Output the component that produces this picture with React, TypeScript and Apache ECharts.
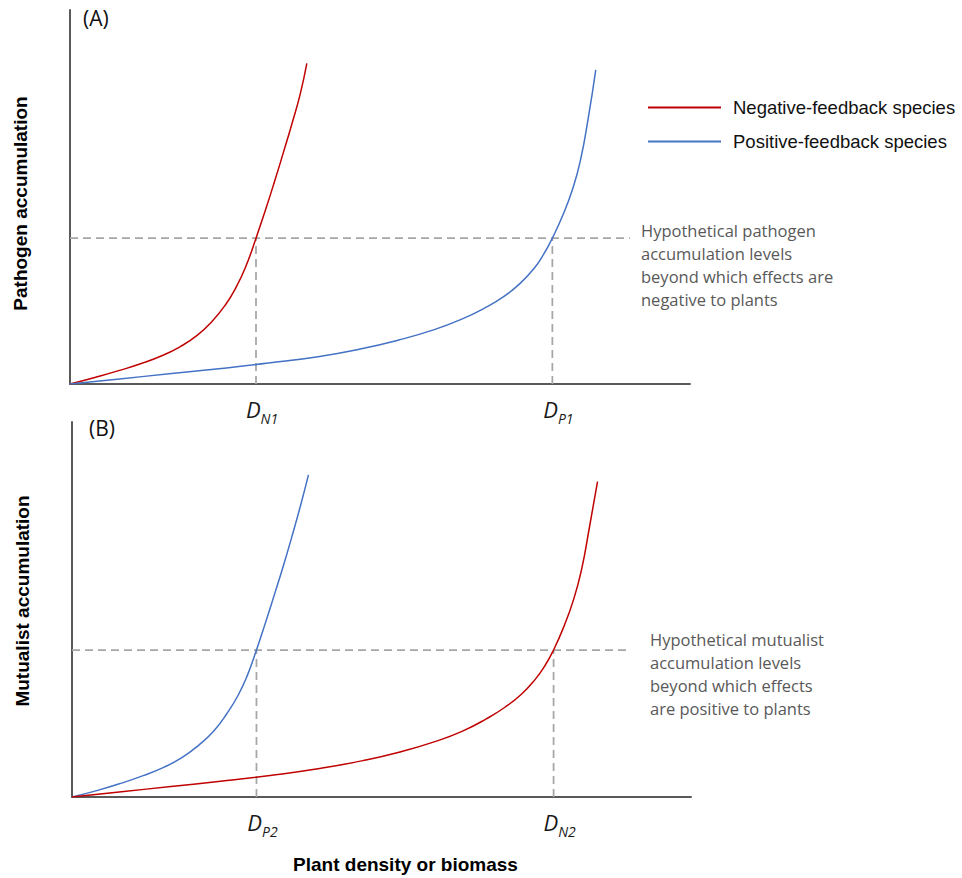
import React, { useEffect, useRef } from "react";
import * as echarts from "echarts";

// Panel A: pathogen accumulation
const negA: number[][] = [[0,0],[4,1.76],[8,3.64],[11.5,5.46],[14.8,7.54],[17.8,10.0],[20.5,13.0],[22.9,16.7],[25,21.0],[26.8,25.9],[28.4,31.6],[30,39.0],[31.5,46.4],[33,54.2],[34.4,61.8],[35.8,69.6],[37.1,77.3],[38.2,85.7]];
const posA: number[][] = [[0,0],[8,1.36],[16,2.72],[24,4.1],[32,5.6],[40,7.3],[47,9.4],[53,11.75],[58.5,14.4],[63,17.2],[67,20.4],[70,23.4],[72.6,26.9],[74.8,30.8],[76.4,34.7],[77.8,39],[79.5,45.2],[81,51.8],[82.3,59.6],[83.6,71.2],[84.8,84]];
// Panel B: mutualist accumulation
const posB: number[][] = [[0,0],[4,1.7],[8,3.7],[11.5,5.7],[14.8,7.9],[17.8,10.55],[20.5,13.85],[22.9,17.6],[25,22.2],[26.8,27.0],[28.3,32.3],[29.8,39.2],[31.3,46.7],[32.8,54.5],[34.1,61.4],[35.5,69.3],[36.9,77.6],[38.2,85.9]];
const negB: number[][] = [[0,0],[8,1.4],[16,2.8],[24,4.2],[32,5.75],[40,7.6],[47,9.7],[53,12.0],[58.5,14.7],[63,17.5],[67,20.9],[70,24.0],[72.6,27.4],[74.8,31.3],[76.4,35.0],[77.8,39.2],[79.5,45.6],[81,52.5],[82.3,60.5],[83.6,72.0],[84.9,84.1]];

// Thresholds
const thrA = 39.0;
const crossA = [30.0, 77.8];
const tickNamesA = ["N1", "P1"];
const hEndA = 90.3;
const thrB = 39.2;
const crossB = [29.8, 77.8];
const tickNamesB = ["P2", "N2"];
const hEndB = 90.1;

const NEG = "Negative-feedback species";
const POS = "Positive-feedback species";
const RED = "#c00000";
const BLUE = "#4472c4";
const DASH = "#a6a6a6";
const AXIS = "#595959";

const annA = ["Hypothetical pathogen", "accumulation levels", "beyond which effects are", "negative to plants"];
const annB = ["Hypothetical mutualist", "accumulation levels", "beyond which effects", "are positive to plants"];

const dashed = (xi: number, yi: number, data: number[][]) => ({
  type: "line",
  xAxisIndex: xi,
  yAxisIndex: yi,
  data,
  symbol: "none",
  silent: true,
  lineStyle: { color: DASH, width: 1.75, type: [8, 5] },
  z: 1,
});

const curve = (name: string, color: string, xi: number, data: number[][]) => ({
  type: "line",
  name,
  xAxisIndex: xi,
  yAxisIndex: xi,
  data,
  symbol: "none",
  smooth: 0.5,
  lineStyle: { color, width: 1.5 },
  itemStyle: { color },
  z: 3,
});

const richD = {
  d: { fontSize: 22, fontStyle: "italic", fontFamily: "Open Sans", color: "#1a1a1a", verticalAlign: "bottom", lineHeight: 26 },
  s: { fontSize: 14, fontStyle: "italic", fontFamily: "Open Sans", color: "#1a1a1a", verticalAlign: "bottom", lineHeight: 14, padding: [0, 0, -5, 0] },
};

const xAx = (gi: number, vals: number[], names: string[], extra: any = {}) => ({
  type: "value",
  gridIndex: gi,
  min: 0,
  max: 100,
  axisLine: { show: true, onZero: false, lineStyle: { color: AXIS, width: 2 } },
  axisTick: { show: false },
  splitLine: { show: false },
  axisLabel: {
    show: true,
    customValues: vals,
    margin: 10,
    padding: [0, 0, 0, 12],
    formatter: (v: number) => {
      const i = vals.findIndex((c) => Math.abs(c - v) < 1e-6);
      return i < 0 ? "" : `{d|D}{s|${names[i]}}`;
    },
    rich: richD,
  },
  ...extra,
});

const yAx = (gi: number, name: string, pad: number[]) => ({
  type: "value",
  gridIndex: gi,
  min: 0,
  max: 100,
  name,
  nameLocation: "middle",
  nameRotate: 90,
  nameGap: 40,
  nameTextStyle: { fontFamily: "Liberation Sans", fontWeight: "bold", fontSize: 19, color: "#000", padding: pad },
  axisLine: { show: true, onZero: false, lineStyle: { color: AXIS, width: 2 } },
  axisTick: { show: false },
  axisLabel: { show: false },
  splitLine: { show: false },
});

export default function App() {
  const ref = useRef<HTMLDivElement>(null);
  useEffect(() => {
    document.body.style.margin = "0";
    if (!ref.current) return;
    const chart = echarts.init(ref.current, undefined, { renderer: "svg" });
    const option: any = {
      animation: false,
      backgroundColor: "#ffffff",
      grid: [
        { left: 70, top: 10, width: 620, height: 374 },
        { left: 72, top: 422, width: 619, height: 375 },
      ],
      legend: {
        data: [NEG, POS],
        orient: "vertical",
        left: 643,
        top: 93,
        itemWidth: 73,
        itemHeight: 2,
        itemGap: 15,
        icon: "rect",
        textStyle: { fontFamily: "Liberation Sans", fontSize: 18.5, color: "#111", padding: [0, 0, 0, 7] },
      },
      xAxis: [
        xAx(0, crossA, tickNamesA),
        xAx(1, crossB, tickNamesB, {
          name: "Plant density or biomass",
          nameLocation: "middle",
          nameGap: 58,
          nameTextStyle: { fontFamily: "Liberation Sans", fontWeight: "bold", fontSize: 19, color: "#000", padding: [0, 0, 0, 48] },
        }),
      ],
      yAxis: [
        yAx(0, "Pathogen accumulation", [0, 13, 0, 0]),
        yAx(1, "Mutualist accumulation", [0, 0, 0, 17]),
      ],
      series: [
        dashed(0, 0, [[0, thrA], [hEndA, thrA]]),
        dashed(0, 0, [[crossA[0], 0], [crossA[0], thrA]]),
        dashed(0, 0, [[crossA[1], 0], [crossA[1], thrA]]),
        dashed(1, 1, [[0, thrB], [hEndB, thrB]]),
        dashed(1, 1, [[crossB[0], 0], [crossB[0], thrB]]),
        dashed(1, 1, [[crossB[1], 0], [crossB[1], thrB]]),
        curve(NEG, RED, 0, negA),
        curve(POS, BLUE, 0, posA),
        curve(POS, BLUE, 1, posB),
        curve(NEG, RED, 1, negB),
      ],
      graphic: [
        { type: "text", left: 83, top: 7, style: { text: "(A)", fontFamily: "Open Sans", fontSize: 21, fill: "#111" } },
        { type: "text", left: 89, top: 417, style: { text: "(B)", fontFamily: "Open Sans", fontSize: 21, fill: "#111" } },
        { type: "text", x: 641, y: 218.5, style: { text: annA.join("\n"), fontFamily: "Open Sans", fontSize: 16.5, lineHeight: 23, fill: "#595959", verticalAlign: "top" } },
        { type: "text", x: 650, y: 627.5, style: { text: annB.join("\n"), fontFamily: "Open Sans", fontSize: 16.5, lineHeight: 23, fill: "#595959", verticalAlign: "top" } },
      ],
    };
    chart.setOption(option);
    return () => chart.dispose();
  }, []);
  return <div ref={ref} style={{ width: 962, height: 878 }} />;
}
